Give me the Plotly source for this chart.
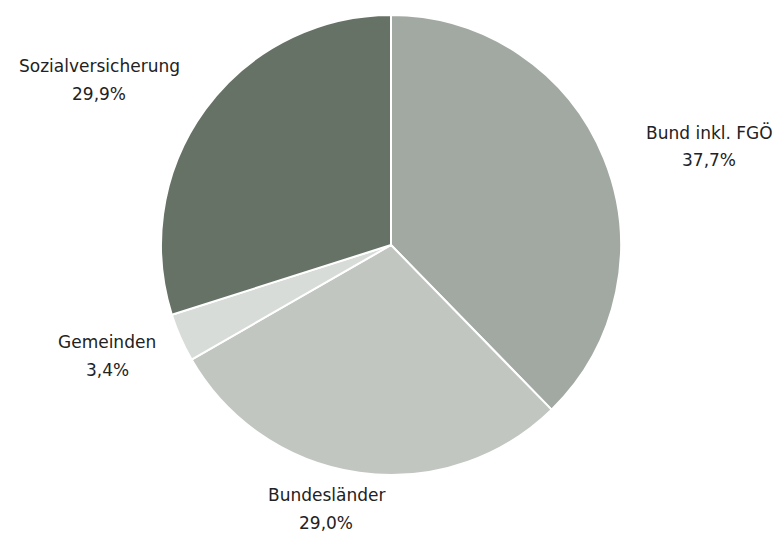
import plotly.graph_objects as go

# Ausgabenanteile nach Sektoren
labels = ["Bund inkl. FGÖ", "Bundesländer", "Gemeinden", "Sozialversicherung"]
values = [37.7, 29.0, 3.4, 29.9]
value_text = ["37,7%", "29,0%", "3,4%", "29,9%"]
colors = ["#a2a9a3", "#c1c6c1", "#d8dcd8", "#677267"]

W, H = 779, 533
cx, cy, r = 391, 245, 230

fig = go.Figure(go.Pie(
    labels=labels,
    values=values,
    sort=False,
    direction="clockwise",
    rotation=0,
    marker=dict(colors=colors, line=dict(color="white", width=2)),
    textinfo="none",
    hoverinfo="label+percent",
    domain=dict(x=[(cx - r) / W, (cx + r) / W], y=[1 - (cy + r) / H, 1 - (cy - r) / H]),
    showlegend=False,
))

# Beschriftungen außerhalb der Segmente (Pixelpositionen der Textmitte)
label_pos = {
    "Bund inkl. FGÖ": (709, 132),
    "Bundesländer": (326, 495),
    "Gemeinden": (107, 342),
    "Sozialversicherung": (99, 66),
}
line_gap = 28
font = dict(family="DejaVu Sans", size=17, color="#222222")
for name, txt in zip(labels, value_text):
    px, py = label_pos[name]
    for i, s in enumerate([name, txt]):
        fig.add_annotation(
            x=px / W, y=1 - (py + i * line_gap) / H, xref="paper", yref="paper",
            text=s, showarrow=False, xanchor="center", yanchor="middle", font=font,
        )

fig.update_layout(
    width=W, height=H,
    margin=dict(l=0, r=0, t=0, b=0),
    paper_bgcolor="white", plot_bgcolor="white",
)

fig.write_html("out.html")
